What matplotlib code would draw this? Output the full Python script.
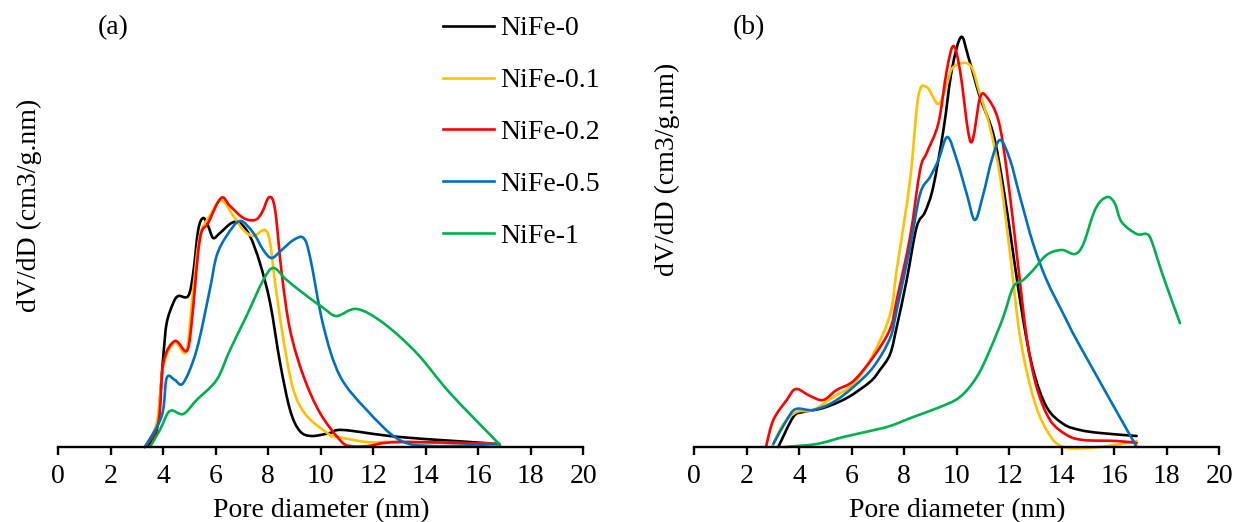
import numpy as np
import matplotlib
import matplotlib.pyplot as plt
from matplotlib.path import Path
from matplotlib.patches import PathPatch
from matplotlib.lines import Line2D

matplotlib.use('Agg')

plt.rcParams['font.family'] = ['Liberation Serif', 'DejaVu Serif']

# --- Datos: distribución de tamaño de poro (unidades arbitrarias) ---
labels = ['NiFe-0', 'NiFe-0.1', 'NiFe-0.2', 'NiFe-0.5', 'NiFe-1']
colors = ['#000000', '#FFC000', '#FF0000', '#0070C0', '#00B050']

# Panel (a)
a_x0 = [3.3, 3.75, 4.0, 4.13, 4.38, 4.57, 4.95, 5.14, 5.33, 5.52, 5.71, 5.9, 6.16, 6.6, 6.92,
        7.3, 7.68, 8.07, 8.45, 8.83, 9.2, 9.65, 10.35, 10.86, 13.0, 16.8]
a_y0 = [0, 17, 91, 124, 144, 151, 151, 174, 217, 229, 221, 209, 214, 224, 224,
        211, 184, 144, 84, 37, 16, 11, 14, 17, 10, 3]

a_x1 = [3.3, 3.75, 4.0, 4.38, 4.57, 4.89, 5.14, 5.39, 5.77, 6.2, 6.67, 7.05, 7.43, 7.87,
        8.07, 8.26, 8.58, 8.96, 9.47, 10.35, 10.48, 11.75, 13.0, 16.8]
a_y1 = [0, 24, 81, 104, 102, 97, 157, 211, 231, 247, 231, 217, 211, 217,
        204, 164, 107, 57, 31, 12, 11, 5, 5, 3]

a_x2 = [3.3, 3.81, 4.0, 4.44, 4.89, 5.08, 5.39, 5.71, 6.2, 6.54, 7.05, 7.49, 7.75, 8.04, 8.26,
        8.51, 8.83, 9.34, 9.97, 10.73, 11.1, 11.8, 13.0, 16.8]
a_y2 = [0, 24, 84, 106, 96, 124, 207, 224, 249, 241, 229, 227, 234, 250, 237,
        174, 117, 71, 34, 7, 1, 1, 5, 3]

a_x3 = [3.3, 3.94, 4.13, 4.44, 4.76, 5.27, 5.77, 6.03, 6.41, 6.92, 7.43, 7.81, 8.13, 8.51,
        8.96, 9.34, 9.59, 10.1, 10.73, 11.75, 13.0, 14.3, 16.8]
a_y3 = [0, 31, 69, 67, 64, 97, 157, 191, 211, 226, 214, 197, 189, 197,
        207, 209, 190, 121, 71, 37, 7, 1, 3]

a_x4 = [3.49, 3.87, 4.25, 4.76, 5.27, 6.03, 6.54, 7.17, 7.81, 8.2, 8.7, 9.47, 10.1, 10.6,
        11.37, 12.38, 13.65, 14.92, 16.83]
a_y4 = [0, 17, 36, 33, 47, 67, 97, 131, 167, 179, 167, 151, 139, 131,
        138, 124, 94, 54, 2]

# Panel (b)
b_x0 = [3.2, 3.77, 4.15, 4.91, 5.81, 6.69, 7.07, 7.46, 7.71, 8.09, 8.47, 8.79, 9.1, 9.49, 9.81,
        10.16, 10.44, 10.88, 11.39, 11.77, 12.15, 12.53, 12.91, 13.42, 14.06, 14.69, 15.45, 16.85]
b_y0 = [0, 30, 35, 39, 49, 65, 77, 93, 120, 167, 220, 235, 260, 317, 377,
        410, 390, 350, 313, 260, 193, 127, 77, 40, 23, 17, 14, 11]

b_x1 = [2.95, 3.39, 3.9, 4.53, 5.3, 6.06, 6.82, 7.46, 7.71, 8.22, 8.53, 8.85, 9.3, 9.62,
        9.87, 10.5, 10.88, 11.26, 11.65, 12.03, 12.41, 12.91, 13.42, 14.06, 15.45, 16.85]
b_y1 = [0, 23, 35, 37, 50, 63, 93, 133, 177, 267, 350, 360, 343, 363,
        380, 382, 353, 320, 270, 193, 110, 50, 17, 0, 0, 6]

b_x2 = [2.73, 3.01, 3.52, 3.87, 4.41, 4.91, 5.42, 6.06, 6.82, 7.46, 7.71, 8.22, 8.6, 8.85,
        9.3, 9.62, 9.87, 10.12, 10.53, 10.88, 11.14, 11.58, 11.9, 12.28, 12.66, 13.04, 13.55,
        14.19, 14.82, 16.09, 16.85]
b_y2 = [0, 27, 47, 58, 51, 47, 57, 66, 90, 118, 147, 210, 277, 294,
        324, 377, 401, 377, 305, 349, 350, 327, 277, 194, 110, 60, 27,
        12, 7, 6, 4]

b_x3 = [3.01, 3.52, 3.87, 4.53, 5.3, 6.06, 6.82, 7.46, 7.71, 8.22, 8.6, 8.98, 9.3, 9.64,
        10.0, 10.38, 10.69, 11.01, 11.33, 11.65, 12.03, 12.41, 12.91, 13.42, 14.06, 14.69, 16.85]
b_y3 = [3, 27, 38, 37, 45, 60, 80, 109, 137, 200, 253, 270, 287, 310,
        287, 253, 227, 253, 287, 307, 287, 250, 203, 167, 133, 101, 0]

b_x4 = [3.46, 4.66, 5.68, 6.69, 7.46, 8.34, 9.36, 10.12, 10.76, 11.26, 11.77, 12.15, 12.53,
        12.91, 13.42, 13.99, 14.5, 14.82, 15.2, 15.45, 15.77, 16.03, 16.28, 16.85, 17.23,
        17.42, 17.87, 18.5]
b_y4 = [0, 3, 10, 16, 21, 30, 40, 50, 70, 97, 130, 160, 167,
        177, 192, 197, 193, 203, 233, 245, 250, 243, 225, 213, 213,
        206, 170, 124]

panel_a = [(a_x0, a_y0), (a_x1, a_y1), (a_x2, a_y2), (a_x3, a_y3), (a_x4, a_y4)]
panel_b = [(b_x0, b_y0), (b_x1, b_y1), (b_x2, b_y2), (b_x3, b_y3), (b_x4, b_y4)]

xticks = np.arange(0, 21, 2)
FS = 20
LW = 1.9


def smooth_path(x, y):
    # curva suavizada (Bezier tipo Catmull-Rom) que pasa por cada punto
    p = np.column_stack([x, y]).astype(float)
    ext = np.vstack([p[0], p, p[-1]])
    verts = [p[0]]
    codes = [Path.MOVETO]
    for i in range(len(p) - 1):
        p0, p1, p2, p3 = ext[i], ext[i + 1], ext[i + 2], ext[i + 3]
        verts += [p1 + (p2 - p0) / 6, p2 - (p3 - p1) / 6, p2]
        codes += [Path.CURVE4] * 3
    return Path(verts, codes)


fig = plt.figure(figsize=(12.35, 5.22), dpi=100)
ax_a = fig.add_axes([0.0472, 0.1437, 0.4251, 0.8429])
ax_b = fig.add_axes([0.5622, 0.1437, 0.4251, 0.8429])

for ax, series, tag in [(ax_a, panel_a, '(a)'), (ax_b, panel_b, '(b)')]:
    for (x, y), c in zip(series, colors):
        ax.add_patch(PathPatch(smooth_path(x, y), fill=False, edgecolor=c, lw=LW,
                               joinstyle='round', capstyle='round', clip_on=False))
    ax.set_xlim(0, 20)
    ax.set_ylim(0, 440)
    ax.set_xticks(xticks)
    ax.set_yticks([])
    for s in ['top', 'right', 'left']:
        ax.spines[s].set_visible(False)
    ax.spines['bottom'].set_linewidth(1.7)
    ax.tick_params(axis='x', direction='out', length=6, width=1.7, labelsize=FS, pad=6)
    ax.set_xlabel('Pore diameter (nm)', fontsize=FS, labelpad=7)
    ax.set_ylabel('dV/dD (cm3/g.nm)', fontsize=FS)
    ax.text(2.08, 419, tag, fontsize=FS, ha='center', va='center')

ax_a.yaxis.set_label_coords(-0.031, 0.55)
ax_b.yaxis.set_label_coords(-0.028, 0.63)

handles = [Line2D([], [], color=c, lw=LW) for c in colors]
ax_a.legend(handles, labels, loc='upper left', bbox_to_anchor=(443 / 1235, 1 - 16 / 522),
            bbox_transform=fig.transFigure, frameon=False, fontsize=FS,
            handlelength=1.85, handletextpad=0.2, labelspacing=0.95,
            borderpad=0, borderaxespad=0)

fig.savefig('out.png', dpi=100)
